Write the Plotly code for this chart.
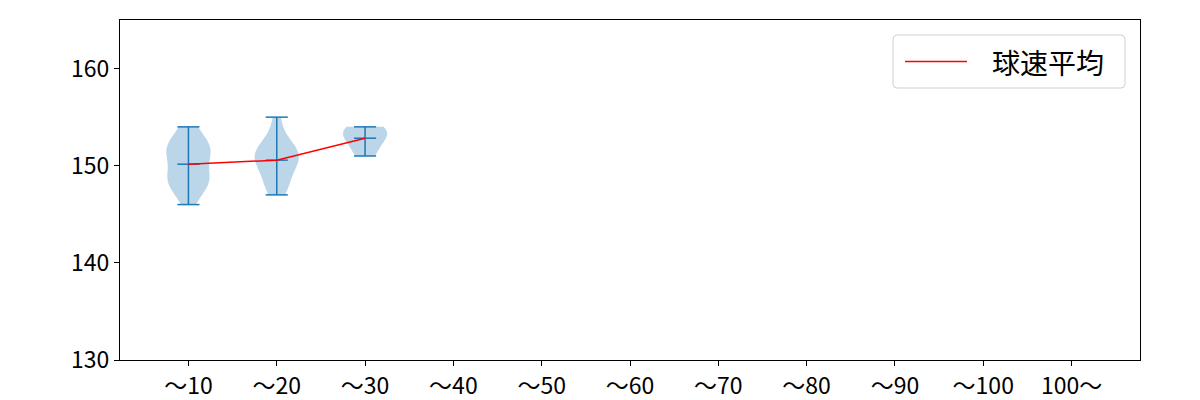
import numpy as np
import plotly.graph_objects as go

categories = ["〜10", "〜20", "〜30", "〜40", "〜50", "〜60", "〜70", "〜80", "〜90", "〜100", "100〜"]
speeds_10 = [146, 147, 148, 148, 148, 149, 149, 149, 149, 151, 151, 151, 151, 152, 152, 152, 153, 153, 154]
speeds_20 = [147, 148, 148, 149, 150, 150, 151, 151, 151, 151, 152, 152, 153, 155]
speeds_30 = [151, 152, 153, 153, 154, 154]
series = [speeds_10, speeds_20, speeds_30]
y_ticks = [130, 140, 150, 160]
legend_label = "球速平均"

BLUE = "#1f77b4"
FONT = "Noto Sans CJK JP"

# the page has an 8px body margin, so the figure starts at (8, 8) in the window
OFF = 8
FIG_W, FIG_H = 1200 - OFF, 400 - OFF
TOP, BOT = 20, 360

fig = go.Figure()
positions = list(range(1, len(categories) + 1))

for pos, data in zip(positions, series):
    arr = np.array(data, dtype=float)
    bw = arr.std(ddof=1) * len(arr) ** (-1 / 5)
    fig.add_trace(go.Violin(
        x=[pos] * len(arr), y=arr, width=0.5, scalemode="width",
        spanmode="hard", bandwidth=bw, points=False,
        fillcolor="rgba(31,119,180,0.3)", line=dict(width=0, color="rgba(0,0,0,0)"),
        box_visible=False, meanline_visible=False, showlegend=False,
        hoverinfo="skip", orientation="v",
    ))

# extrema and mean bars
xs, ys = [], []
half = 0.125
means = []
for pos, data in zip(positions, series):
    arr = np.array(data, dtype=float)
    lo, hi, m = arr.min(), arr.max(), arr.mean()
    means.append(m)
    xs += [pos, pos, None, pos - half, pos + half, None, pos - half, pos + half, None, pos - half, pos + half, None]
    ys += [lo, hi, None, lo, lo, None, hi, hi, None, m, m, None]
fig.add_trace(go.Scatter(x=xs, y=ys, mode="lines", line=dict(color=BLUE, width=1.5),
                         showlegend=False, hoverinfo="skip"))

fig.add_trace(go.Scatter(x=positions[:len(series)], y=means, mode="lines",
                         line=dict(color="red", width=1.5), name=legend_label, showlegend=False))

# manual matplotlib-style legend; plot area in window pixels: x 120..1140, y TOP..BOT
W, H = 1020.0, float(BOT - TOP)
def px_x(p):
    return (p - 120) / W
def px_y(p):
    return 1 - (p - TOP) / H
x0, x1, y0, y1 = px_x(893), px_x(1125), px_y(88), px_y(35)
rx, ry = 4 / W, 4 / H
path = (f"M {x0+rx},{y0} L {x1-rx},{y0} Q {x1},{y0} {x1},{y0+ry} L {x1},{y1-ry} Q {x1},{y1} {x1-rx},{y1} "
        f"L {x0+rx},{y1} Q {x0},{y1} {x0},{y1-ry} L {x0},{y0+ry} Q {x0},{y0} {x0+rx},{y0} Z")
fig.add_shape(type="path", path=path, xref="paper", yref="paper",
              line=dict(color="#d0d0d0", width=1), fillcolor="rgba(255,255,255,0.8)")
fig.add_shape(type="line", xref="paper", yref="paper", x0=px_x(905), x1=px_x(967),
              y0=px_y(61.5), y1=px_y(61.5), line=dict(color="red", width=1.5))
fig.add_annotation(text=legend_label, xref="paper", yref="paper", x=px_x(990), y=px_y(61.5),
                   xanchor="left", yanchor="middle", showarrow=False,
                   font=dict(family=FONT, size=28, color="black"))

fig.update_layout(
    width=FIG_W, height=FIG_H,
    margin=dict(l=120 - OFF, r=1200 - 1140, t=TOP - OFF, b=400 - BOT),
    paper_bgcolor="white", plot_bgcolor="white", violinmode="overlay",
    font=dict(family=FONT, size=23, color="black"),
)
fig.update_xaxes(range=[0.225, 11.775], tickvals=positions, ticktext=categories,
                 showgrid=False, zeroline=False, showline=True, mirror=True,
                 linecolor="black", linewidth=1, ticks="outside", ticklen=5,
                 tickcolor="black", tickfont=dict(family=FONT, size=23), automargin=False)
fig.update_yaxes(range=[130, 165], tickvals=y_ticks, showgrid=False, zeroline=False,
                 showline=True, mirror=True, linecolor="black", linewidth=1,
                 ticks="outside", ticklen=5, tickcolor="black",
                 tickfont=dict(family=FONT, size=23), automargin=False)

fig.write_html("out.html")
